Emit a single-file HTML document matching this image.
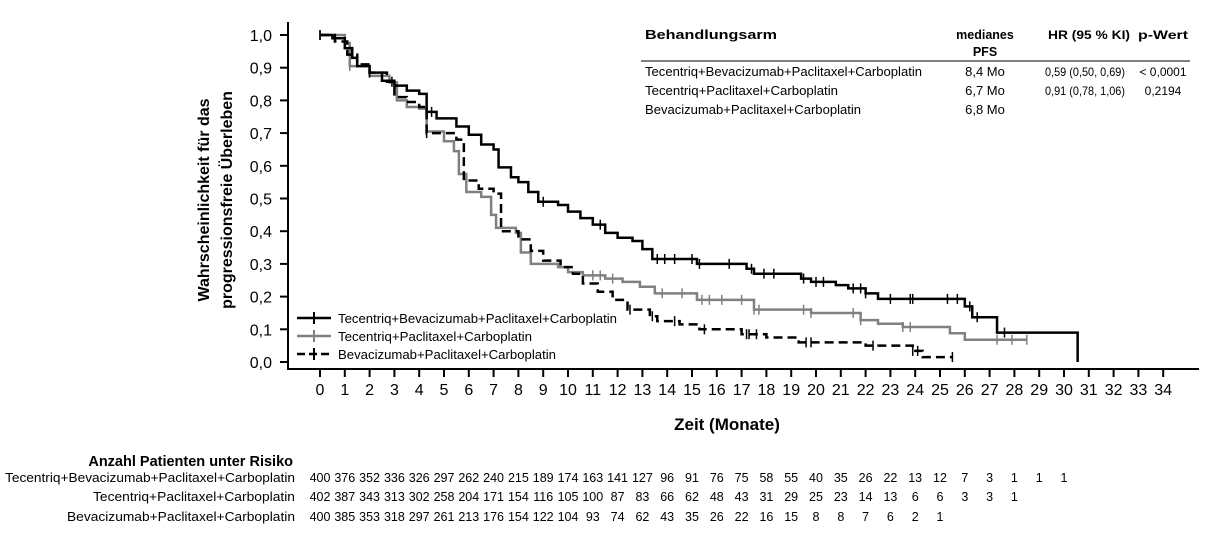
<!DOCTYPE html>
<html><head><meta charset="utf-8"><style>
body{margin:0;background:#fff;}
svg{display:block;font-family:"Liberation Sans",Arial,sans-serif;}
</style></head><body>
<svg id="s" width="1213" height="543" viewBox="0 0 1213 543" xmlns="http://www.w3.org/2000/svg">
<g id="axes" stroke="#000" stroke-width="2" fill="none">
<line x1="288" y1="22" x2="288" y2="369"/>
<line x1="287" y1="369" x2="1199" y2="369"/>
</g>
<g id="yt"></g>
<g id="xt"></g>
<g id="curves"></g>
<text transform="translate(209,200) rotate(-90)" text-anchor="middle" font-size="16" font-weight="bold">Wahrscheinlichkeit für das</text>
<text transform="translate(232,200) rotate(-90)" text-anchor="middle" font-size="16" font-weight="bold">progressionsfreie Überleben</text>
<text x="727" y="430" text-anchor="middle" font-size="17" font-weight="bold">Zeit (Monate)</text>
<g font-size="13">
<line x1="297" y1="318" x2="331" y2="318" stroke="#000" stroke-width="2.5"/><line x1="314" y1="312" x2="314" y2="324" stroke="#000" stroke-width="2"/>
<text x="338" y="323" textLength="279" lengthAdjust="spacingAndGlyphs">Tecentriq+Bevacizumab+Paclitaxel+Carboplatin</text>
<line x1="297" y1="336" x2="331" y2="336" stroke="#808080" stroke-width="2.5"/><line x1="314" y1="330" x2="314" y2="342" stroke="#808080" stroke-width="2"/>
<text x="338" y="341" textLength="194" lengthAdjust="spacingAndGlyphs">Tecentriq+Paclitaxel+Carboplatin</text>
<line x1="297" y1="354" x2="331" y2="354" stroke="#000" stroke-width="2.5" stroke-dasharray="8,4"/><line x1="314" y1="348" x2="314" y2="360" stroke="#000" stroke-width="2"/>
<text x="338" y="359" textLength="218" lengthAdjust="spacingAndGlyphs">Bevacizumab+Paclitaxel+Carboplatin</text>
</g>
<g font-size="13">
<text x="645" y="39" font-weight="bold" textLength="132" lengthAdjust="spacingAndGlyphs">Behandlungsarm</text>
<text x="985" y="39" font-weight="bold" text-anchor="middle" font-size="12.5">medianes</text>
<text x="985" y="56" font-weight="bold" text-anchor="middle" font-size="12.5">PFS</text>
<text x="1048" y="39" font-weight="bold" font-size="12" textLength="82" lengthAdjust="spacingAndGlyphs">HR (95 % KI)</text>
<text x="1138" y="39" font-weight="bold" font-size="12" textLength="50" lengthAdjust="spacingAndGlyphs">p-Wert</text>
<line x1="641" y1="61" x2="1190" y2="61" stroke="#000" stroke-width="1"/>
<text x="645" y="76" textLength="277" lengthAdjust="spacingAndGlyphs">Tecentriq+Bevacizumab+Paclitaxel+Carboplatin</text>
<text x="985" y="76" text-anchor="middle">8,4 Mo</text>
<text x="1045" y="76" font-size="12" textLength="80" lengthAdjust="spacingAndGlyphs">0,59 (0,50,  0,69)</text>
<text x="1163" y="76" text-anchor="middle" font-size="12">&lt; 0,0001</text>
<text x="645" y="95" textLength="193" lengthAdjust="spacingAndGlyphs">Tecentriq+Paclitaxel+Carboplatin</text>
<text x="985" y="95" text-anchor="middle">6,7 Mo</text>
<text x="1045" y="95" font-size="12" textLength="80" lengthAdjust="spacingAndGlyphs">0,91 (0,78,  1,06)</text>
<text x="1163" y="95" text-anchor="middle" font-size="12">0,2194</text>
<text x="645" y="114" textLength="216" lengthAdjust="spacingAndGlyphs">Bevacizumab+Paclitaxel+Carboplatin</text>
<text x="985" y="114" text-anchor="middle">6,8 Mo</text>
</g>
<text x="293" y="466" text-anchor="end" font-size="14.5" font-weight="bold">Anzahl Patienten unter Risiko</text>
<g font-size="13" text-anchor="end">
<text x="295" y="482" textLength="290" lengthAdjust="spacingAndGlyphs">Tecentriq+Bevacizumab+Paclitaxel+Carboplatin</text>
<text x="295" y="501" textLength="202" lengthAdjust="spacingAndGlyphs">Tecentriq+Paclitaxel+Carboplatin</text>
<text x="295" y="521" textLength="228" lengthAdjust="spacingAndGlyphs">Bevacizumab+Paclitaxel+Carboplatin</text>
</g>
<g id="risk" font-size="12.5" text-anchor="middle"></g>
</svg>
<script>
var NS="http://www.w3.org/2000/svg";
function X(t){return 320+24.8*t;}
function Y(s){return 362-327*s;}
function el(p,tag,a,txt){var e=document.createElementNS(NS,tag);for(var k in a)e.setAttribute(k,a[k]);if(txt!==undefined)e.textContent=txt;document.getElementById(p).appendChild(e);return e;}
var lab=["0,0","0,1","0,2","0,3","0,4","0,5","0,6","0,7","0,8","0,9","1,0"];
for(var i=0;i<=10;i++){var y=Y(i/10);el("yt","line",{x1:280,y1:y,x2:288,y2:y,stroke:"#000","stroke-width":2});el("yt","text",{x:272,y:y+6,"font-size":16,"text-anchor":"end"},lab[i]);}
for(var t=0;t<=34;t++){var x=X(t);el("xt","line",{x1:x,y1:369,x2:x,y2:377,stroke:"#000","stroke-width":2});el("xt","text",{x:x,y:395,"font-size":16,"text-anchor":"middle"},""+t);}
function step(pts,end){var d="M"+X(pts[0][0])+","+Y(pts[0][1]);for(var i=1;i<pts.length;i++){d+=" H"+X(pts[i][0])+" V"+Y(pts[i][1]);}d+=" H"+X(end[0]);if(end.length>1)d+=" V"+Y(end[1]);return d;}
function lvl(pts,t){var s=pts[0][1];for(var i=0;i<pts.length;i++){if(pts[i][0]<=t)s=pts[i][1];}return s;}
var B=[[0,1],[0.5,0.99],[1,0.96],[1.3,0.93],[1.5,0.905],[2,0.885],[2.5,0.86],[3,0.845],[3.5,0.83],[4,0.82],[4.3,0.765],[4.7,0.745],[5.5,0.72],[6,0.695],[6.5,0.665],[7,0.65],[7.2,0.595],[7.7,0.565],[8,0.55],[8.4,0.52],[8.8,0.49],[9.6,0.48],[10,0.46],[10.5,0.44],[11,0.42],[11.5,0.395],[12,0.38],[12.6,0.37],[13,0.345],[13.4,0.315],[15.2,0.30],[17.2,0.285],[17.5,0.27],[19.4,0.255],[19.8,0.245],[20.8,0.235],[21.3,0.225],[22,0.21],[22.5,0.193],[26,0.17],[26.3,0.137],[27.3,0.09],[30.55,0]];
var G=[[0,1],[1,0.975],[1.2,0.905],[2,0.875],[2.8,0.855],[3.1,0.80],[3.5,0.78],[4,0.775],[4.3,0.705],[5,0.675],[5.4,0.645],[5.6,0.575],[5.9,0.52],[6.5,0.505],[6.9,0.45],[7.1,0.41],[7.9,0.395],[8.1,0.335],[8.5,0.30],[9.6,0.29],[10,0.275],[10.6,0.265],[11.5,0.255],[12.2,0.245],[12.9,0.23],[13.5,0.21],[15.2,0.19],[17.5,0.16],[19.8,0.15],[21.8,0.128],[22.5,0.117],[23.5,0.107],[25.4,0.088],[26,0.068]];
var D=[[0,1],[0.6,0.98],[1.1,0.94],[1.5,0.91],[2,0.885],[2.7,0.857],[3,0.81],[3.5,0.795],[4,0.78],[4.3,0.70],[5.5,0.68],[5.8,0.555],[6.4,0.53],[7,0.515],[7.3,0.40],[8,0.375],[8.5,0.34],[9,0.31],[9.7,0.29],[10.2,0.27],[10.6,0.24],[11.2,0.215],[11.8,0.19],[12.4,0.16],[13.3,0.14],[13.6,0.125],[14.5,0.115],[15.3,0.10],[17,0.085],[18,0.075],[19.3,0.06],[22,0.05],[23.9,0.034],[24.3,0.015]];
el("curves","path",{d:step(G,[28.5]),stroke:"#808080","stroke-width":2.5,fill:"none"});
el("curves","path",{d:step(D,[25.5]),stroke:"#000","stroke-width":2.5,fill:"none","stroke-dasharray":"9,5"});
el("curves","path",{d:step(B,[30.55]),stroke:"#000","stroke-width":2.5,fill:"none"});
function cens(pts,ts,col){ts.forEach(function(t){var y=Y(lvl(pts,t));el("curves","line",{x1:X(t),y1:y-5,x2:X(t),y2:y+5,stroke:col,"stroke-width":1.5});});}
cens(B,[0,2,4.5,9,11.3,13.6,13.9,14.3,15.0,15.3,16.5,17.4,17.9,18.3,19.5,20,20.3,21.5,21.8,22,23,23.8,23.9,25.3,25.7,26.2,26.5,27.6],"#000");
cens(G,[0,1.2,11,11.3,11.8,13.8,14.6,15.4,15.7,16.2,17,17.5,17.7,19.5,19.8,21.5,21.8,23.5,23.8,27.3,27.9,28.5],"#808080");
cens(D,[0,2.9,4.3,12.5,13.4,14.3,15.5,17.2,17.3,17.6,19.6,19.8,22.3,23.9,24.1,25.5],"#000");
var R=[[400,376,352,336,326,297,262,240,215,189,174,163,141,127,96,91,76,75,58,55,40,35,26,22,13,12,7,3,1,1,1],
[402,387,343,313,302,258,204,171,154,116,105,100,87,83,66,62,48,43,31,29,25,23,14,13,6,6,3,3,1],
[400,385,353,318,297,261,213,176,154,122,104,93,74,62,43,35,26,22,16,15,8,8,7,6,2,1]];
var ry=[482,501,521];
R.forEach(function(r,j){r.forEach(function(v,i){el("risk","text",{x:X(i),y:ry[j]},""+v);});});
</script>
</body></html>
